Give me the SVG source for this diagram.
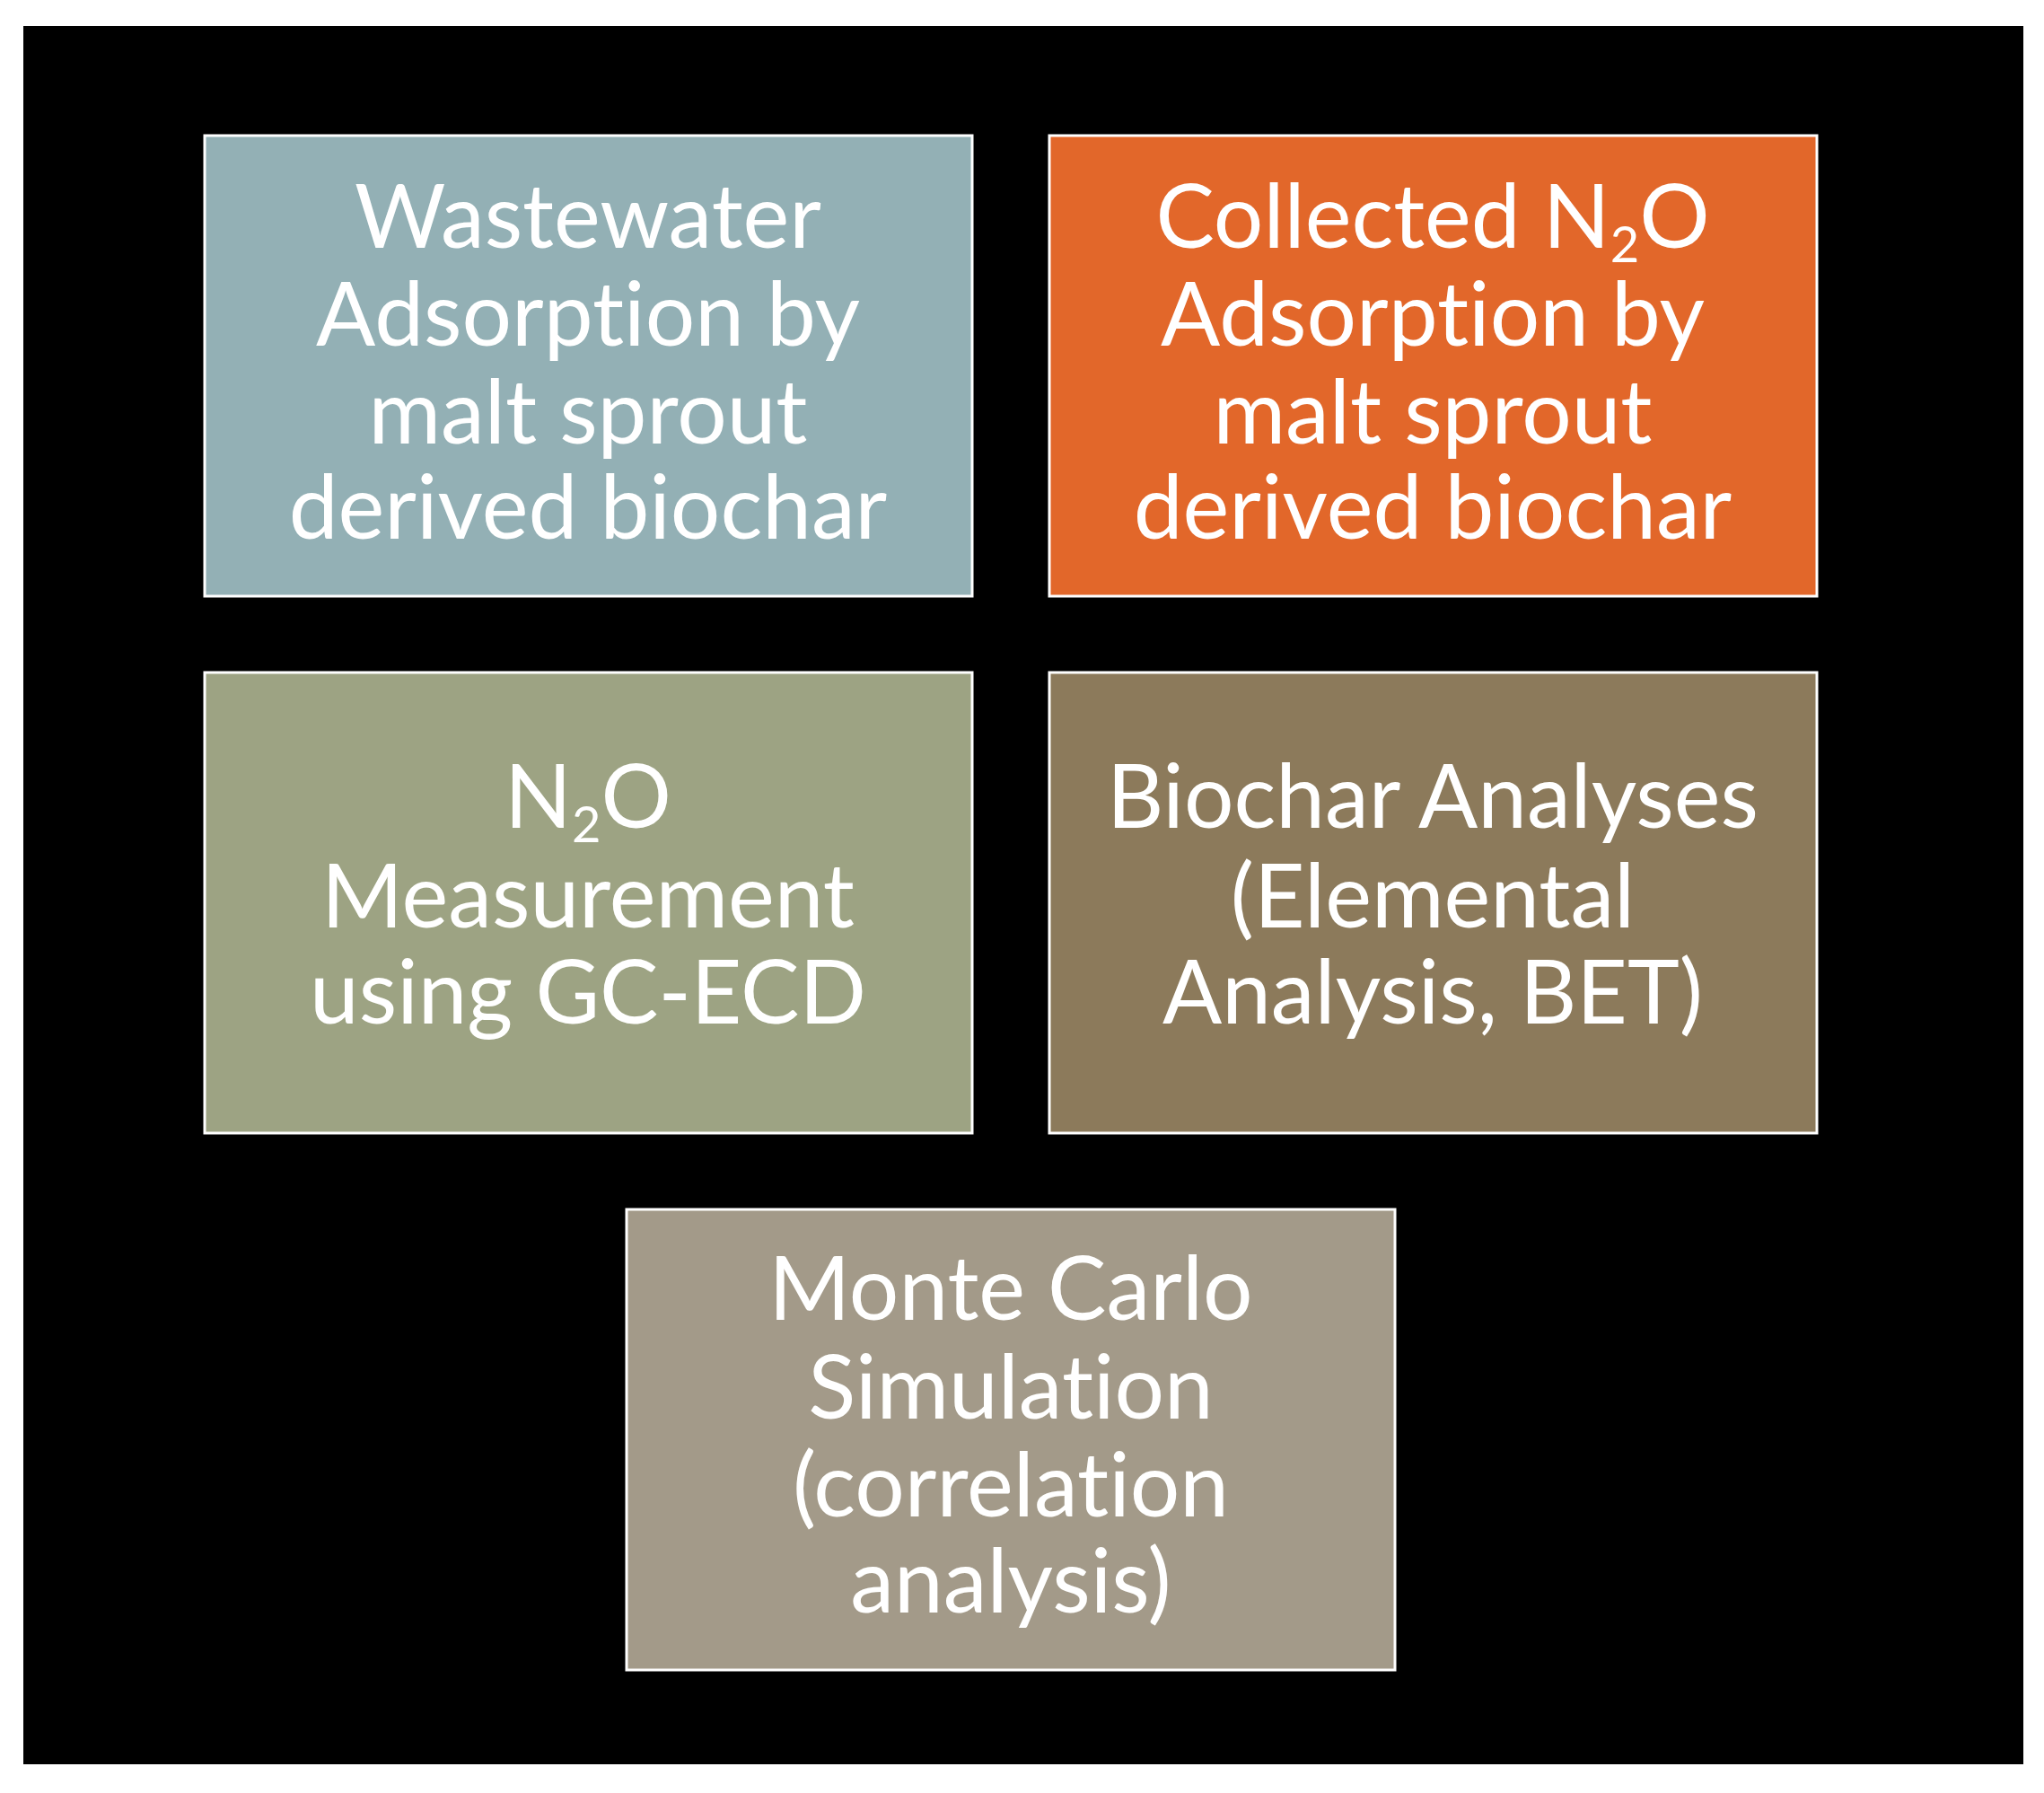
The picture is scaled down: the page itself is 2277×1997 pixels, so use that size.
<svg xmlns="http://www.w3.org/2000/svg" width="2277" height="1997" viewBox="0 0 2277 1997">
<style>
.b{stroke:#fff;stroke-width:3}
.t{font-family:Lato,"Open Sans",sans-serif;font-size:98px;fill:#fff;text-anchor:middle;font-variant-ligatures:none}
.s{font-size:56px}
</style>
<rect width="2277" height="1997" fill="#fff"/>
<rect x="26" y="29" width="2228" height="1936" fill="#000"/>
<g id="n1"><rect class="b" x="228" y="151" width="855" height="513" fill="#93B0B5"/>
<text class="t" x="655" y="276">Wastewater</text><text class="t" x="655" y="385">Adsorption  by</text><text class="t" x="655" y="494">malt sprout</text><text class="t" x="655" y="600">derived biochar</text></g>
<g id="n2"><rect class="b" x="1169" y="151" width="855" height="513" fill="#E2672A"/>
<text class="t" x="1596" y="276">Collected N<tspan class="s" dy="16">2</tspan><tspan dy="-16">O</tspan></text><text class="t" x="1596" y="385">Adsorption by</text><text class="t" x="1596" y="494">malt sprout</text><text class="t" x="1596" y="600">derived biochar</text></g>
<g id="n3"><rect class="b" x="228" y="749" width="855" height="513" fill="#9DA383"/>
<text class="t" x="655" y="922">N<tspan class="s" dy="16">2</tspan><tspan dy="-16">O</tspan></text><text class="t" x="655" y="1033">Measurement</text><text class="t" x="655" y="1140">using GC-ECD</text></g>
<g id="n4"><rect class="b" x="1169" y="749" width="855" height="513" fill="#8C7A5B"/>
<text class="t" x="1596" y="922">Biochar Analyses</text><text class="t" x="1596" y="1033">(Elemental</text><text class="t" x="1596" y="1140">Analysis, BET)</text></g>
<g id="n5"><rect class="b" x="698" y="1347" width="856" height="513" fill="#A39A89"/>
<text class="t" x="1126" y="1470">Monte Carlo</text><text class="t" x="1126" y="1580">Simulation</text><text class="t" x="1126" y="1689">(correlation</text><text class="t" x="1126" y="1796">analysis)</text></g>
<g id="connectors"/>
</svg>
